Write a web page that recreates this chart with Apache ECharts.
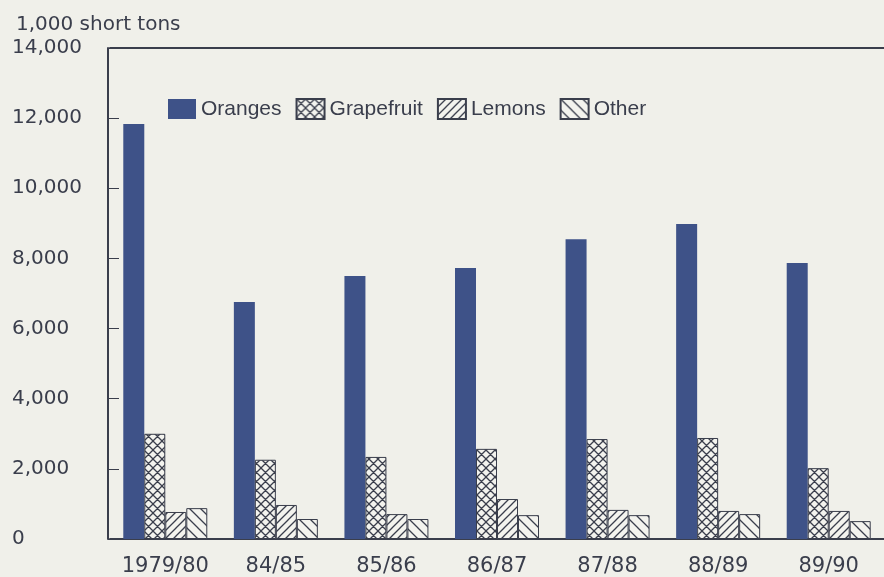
<!DOCTYPE html>
<html>
<head>
<meta charset="utf-8">
<script src="https://cdn.jsdelivr.net/npm/echarts@6/dist/echarts.min.js"></script>
<style>
  html, body { margin: 0; padding: 0; background: #f0f0ea; }
  #chart { width: 884px; height: 577px; }
</style>
</head>
<body>
<div id="chart"></div>
<script>
// crop years
var seasons = ['1979/80', '84/85', '85/86', '86/87', '87/88', '88/89', '89/90']
// 1,000 short tons
var oranges = [11830, 6760, 7500, 7730, 8550, 8980, 7870]
var grapefruit = [3000, 2260, 2340, 2570, 2850, 2880, 2020]
var lemons = [770, 970, 710, 1140, 830, 800, 800]
var other = [880, 570, 570, 680, 680, 710, 510]

var ink = '#3a3e4c'
var paper = '#f3f3ee'

// hatch fills drawn on small canvases
function hatch (kind, size) {
  var c = document.createElement('canvas')
  c.width = size
  c.height = size
  var g = c.getContext('2d')
  g.fillStyle = paper
  g.fillRect(0, 0, size, size)
  g.strokeStyle = ink
  g.lineWidth = 1.3
  g.beginPath()
  if (kind === 'up' || kind === 'cross') {
    g.moveTo(-1, size + 1); g.lineTo(size + 1, -1)
    g.moveTo(-1, 1); g.lineTo(1, -1)
    g.moveTo(size - 1, size + 1); g.lineTo(size + 1, size - 1)
  }
  if (kind === 'down' || kind === 'cross') {
    g.moveTo(-1, -1); g.lineTo(size + 1, size + 1)
    g.moveTo(size - 1, -1); g.lineTo(size + 1, 1)
    g.moveTo(-1, size - 1); g.lineTo(1, size + 1)
  }
  g.stroke()
  return { image: c, repeat: 'repeat' }
}

var chart = echarts.init(document.getElementById('chart'))

function barSeries (name, data, fill) {
  return {
    name: name,
    type: 'bar',
    data: data,
    barWidth: 21,
    barGap: '0%',
    itemStyle: {
      color: fill,
      borderColor: ink,
      borderWidth: fill === '#3e5288' ? 0 : 1
    }
  }
}

chart.setOption({
  backgroundColor: '#f0f0ea',
  animation: false,
  title: {
    text: '1,000 short tons',
    left: 11,
    top: 10,
    textStyle: { fontFamily: 'DejaVu Sans', fontSize: 20, fontWeight: 'normal', color: ink }
  },
  legend: {
    left: 163,
    top: 93,
    itemWidth: 28,
    itemHeight: 20,
    itemGap: 14,
    icon: 'rect',
    textStyle: { fontFamily: 'Liberation Sans', fontSize: 21, color: ink, padding: [0, 0, 0, 0] },
    data: ['Oranges', 'Grapefruit', 'Lemons', 'Other']
  },
  grid: {
    left: 110,
    top: 48,
    right: -8,
    bottom: 38
  },
  xAxis: [{
    type: 'category',
    data: seasons,
    axisLine: { lineStyle: { color: ink, width: 2 } },
    axisTick: { show: false },
    axisLabel: { interval: 0, fontFamily: 'DejaVu Sans', fontSize: 21, color: ink, margin: 17 }
  }, {
    type: 'category',
    position: 'top',
    data: seasons,
    axisLine: { lineStyle: { color: ink, width: 2 } },
    axisTick: { show: false },
    axisLabel: { show: false }
  }],
  yAxis: {
    type: 'value',
    min: 0,
    max: 14000,
    interval: 2000,
    offset: 2,
    axisLine: { show: true, lineStyle: { color: ink, width: 2 } },
    axisTick: { show: true, inside: true, length: 11, lineStyle: { color: ink, width: 1 } },
    splitLine: { show: false },
    axisLabel: {
      fontFamily: 'DejaVu Sans',
      fontSize: 20,
      color: ink,
      align: 'left',
      margin: 96,
      formatter: function (v) { return v.toLocaleString('en-US') }
    }
  },
  series: [
    barSeries('Oranges', oranges, '#3e5288'),
    barSeries('Grapefruit', grapefruit, hatch('cross', 9)),
    barSeries('Lemons', lemons, hatch('up', 8)),
    barSeries('Other', other, hatch('down', 11))
  ]
})
</script>
</body>
</html>
